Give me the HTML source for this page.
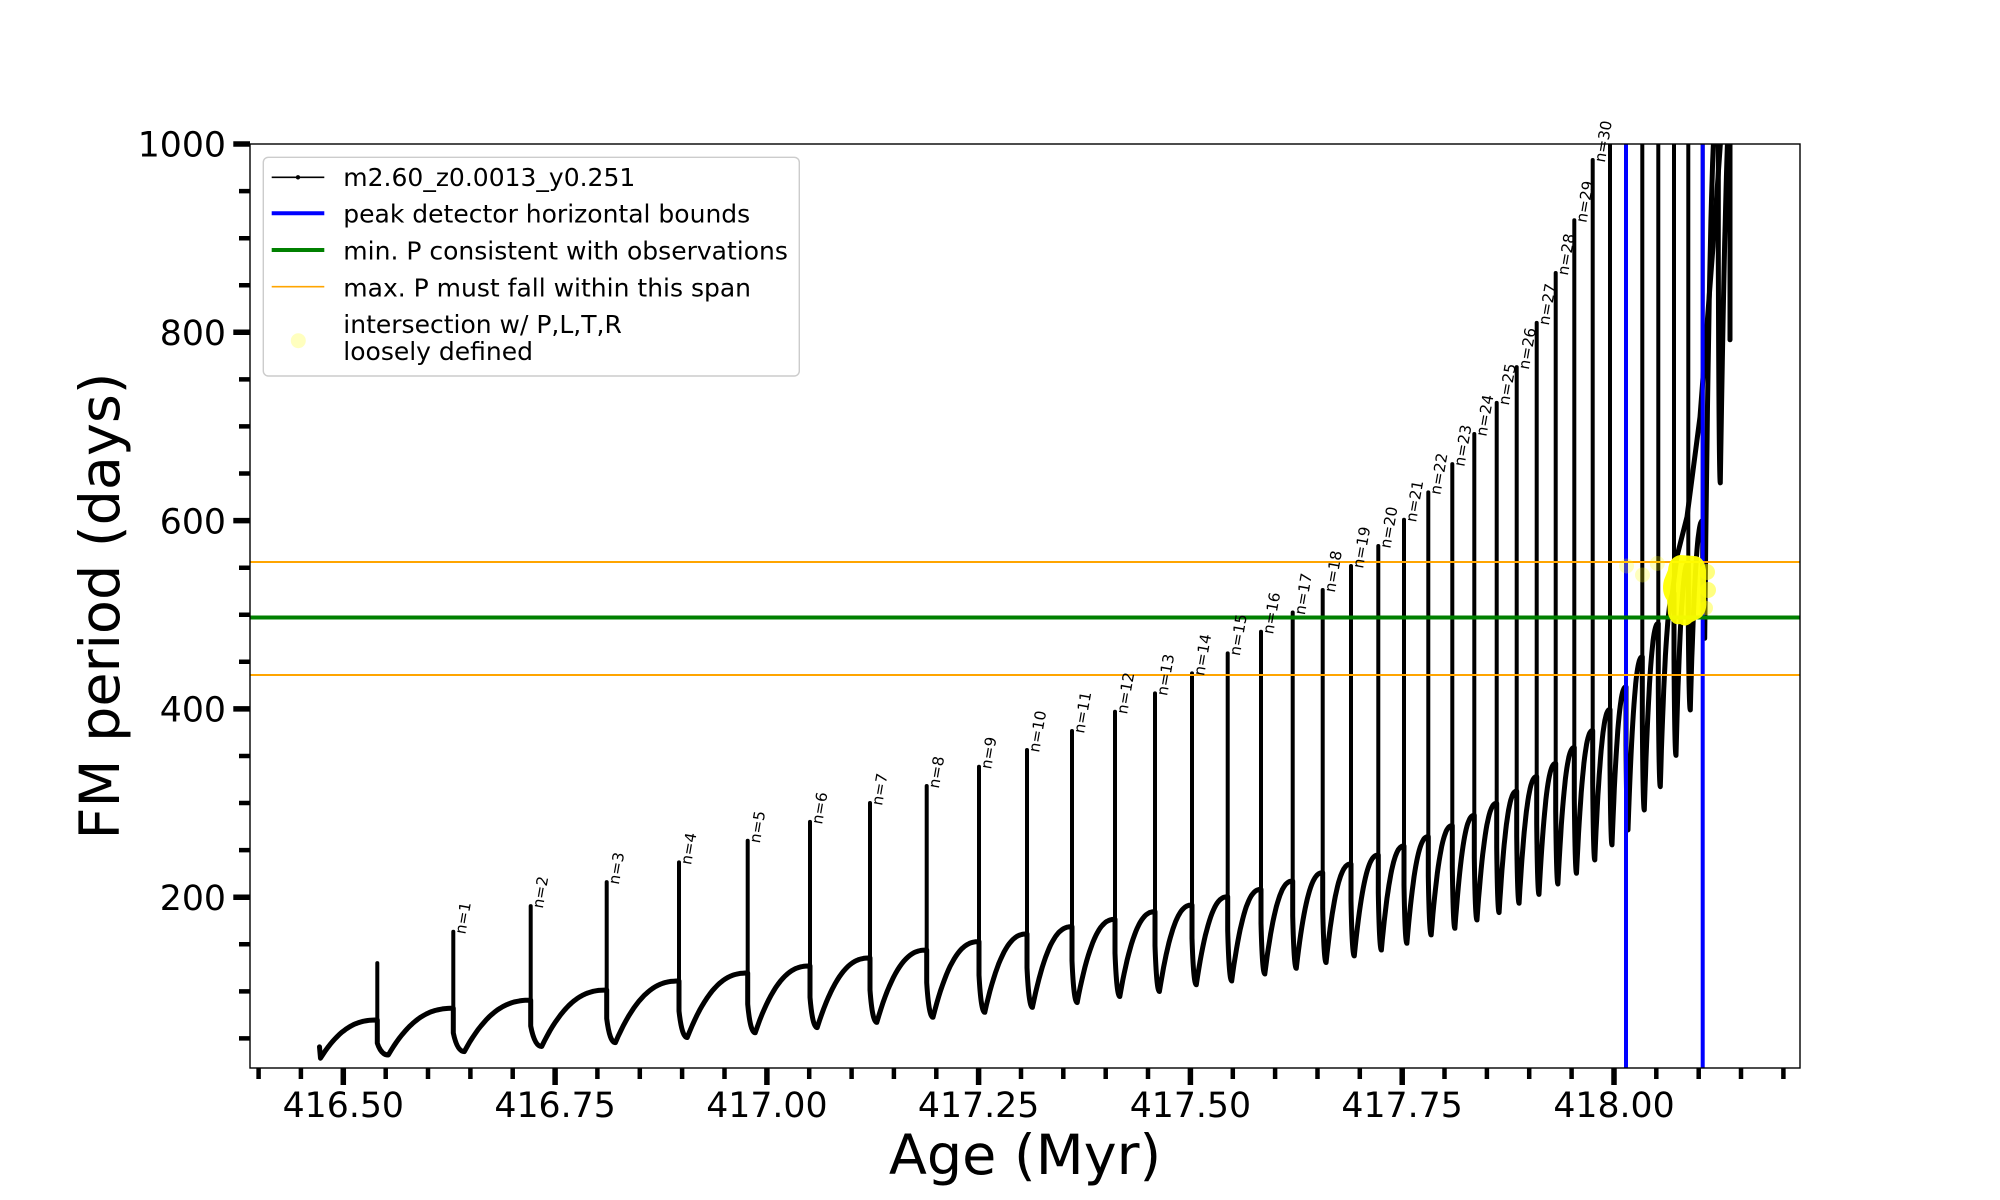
<!DOCTYPE html>
<html>
<head>
<meta charset="utf-8">
<style>
html,body{margin:0;padding:0;background:#fff;}
svg{display:block;}
text{font-family:"DejaVu Sans","Liberation Sans",sans-serif;fill:#000;}
</style>
</head>
<body>
<svg id="s" width="2000" height="1200" viewBox="0 0 2000 1200">
<defs>
  <clipPath id="cp"><rect x="250" y="144" width="1550" height="924"/></clipPath>
</defs>
<rect x="0" y="0" width="2000" height="1200" fill="#fff"/>

<g clip-path="url(#cp)">
  <path id="thin" d="" fill="none" stroke="#000" stroke-width="4" stroke-linecap="round"/>
  <path id="thick" d="" fill="none" stroke="#000" stroke-width="5" stroke-linejoin="round" stroke-linecap="round"/>
  <path id="diag" d="" fill="none" stroke="#000" stroke-width="5" stroke-linejoin="round" stroke-linecap="round"/>
  <!-- blue bounds -->
  <line x1="1626" y1="144" x2="1626" y2="1068" stroke="#0000ff" stroke-width="4"/>
  <line x1="1702.7" y1="144" x2="1702.7" y2="1068" stroke="#0000ff" stroke-width="4"/>
  <!-- green -->
  <line x1="250" y1="617.5" x2="1800" y2="617.5" stroke="#008000" stroke-width="4"/>
  <!-- orange -->
  <line x1="250" y1="562" x2="1800" y2="562" stroke="#ffa500" stroke-width="2"/>
  <line x1="250" y1="675" x2="1800" y2="675" stroke="#ffa500" stroke-width="2"/>
  <!-- yellow intersection points -->
  <g fill="#ffff00">
    <circle cx="1626.5" cy="566" r="7.5" opacity="0.25"/>
    <circle cx="1642.5" cy="575" r="7.5" opacity="0.25"/>
    <circle cx="1657.3" cy="563.5" r="7.5" opacity="0.25"/>
    <path d="M1664,580 Q1661,592 1667,600 L1668,614 Q1672,626 1680,624 Q1686,628 1692,622 L1700,618 Q1708,612 1706,598 L1706,570 Q1704,556 1694,556 L1680,555 Q1669,557 1668,570 Z" opacity="0.95"/>
    <circle cx="1707" cy="572" r="8" opacity="0.5"/>
    <circle cx="1708" cy="590" r="8" opacity="0.5"/>
    <circle cx="1706" cy="608" r="7" opacity="0.4"/>
  </g>
</g>

<!-- spines -->
<rect x="250" y="144" width="1550" height="924" fill="none" stroke="#000" stroke-width="1.4"/>

<!-- ticks -->
<path id="tmaj" d="" fill="none" stroke="#000" stroke-width="5.5"/>
<path id="tmin" d="" fill="none" stroke="#000" stroke-width="4.5"/>

<!-- x tick labels -->
<g font-size="34.7" text-anchor="middle">
  <text x="343.3" y="1117">416.50</text>
  <text x="555.1" y="1117">416.75</text>
  <text x="766.9" y="1117">417.00</text>
  <text x="978.6" y="1117">417.25</text>
  <text x="1190.4" y="1117">417.50</text>
  <text x="1402.1" y="1117">417.75</text>
  <text x="1614.0" y="1117">418.00</text>
</g>
<!-- y tick labels -->
<g font-size="34.7" text-anchor="end">
  <text x="226" y="156.7">1000</text>
  <text x="226" y="345">800</text>
  <text x="226" y="533.3">600</text>
  <text x="226" y="721.6">400</text>
  <text x="226" y="909.9">200</text>
</g>

<!-- axis labels -->
<text x="1025" y="1174" font-size="55.6" text-anchor="middle">Age (Myr)</text>
<text transform="translate(119,606) rotate(-90)" font-size="55.6" text-anchor="middle">FM period (days)</text>

<!-- pulse labels -->
<g font-size="15.3">
  <text transform="translate(465.3,934.8) rotate(-80)">n=1</text>
  <text transform="translate(542.7,909.0) rotate(-80)">n=2</text>
  <text transform="translate(618.7,885.1) rotate(-80)">n=3</text>
  <text transform="translate(691,865.4) rotate(-80)">n=4</text>
  <text transform="translate(759.7,843.7) rotate(-80)">n=5</text>
  <text transform="translate(822,824.9) rotate(-80)">n=6</text>
  <text transform="translate(882,806.1) rotate(-80)">n=7</text>
  <text transform="translate(938.7,789.0) rotate(-80)">n=8</text>
  <text transform="translate(991,769.7) rotate(-80)">n=9</text>
  <text transform="translate(1039,753.0) rotate(-80)">n=10</text>
  <text transform="translate(1084,734.0) rotate(-80)">n=11</text>
  <text transform="translate(1127,714.7) rotate(-80)">n=12</text>
  <text transform="translate(1167,696.4) rotate(-80)">n=13</text>
  <text transform="translate(1204,676.4) rotate(-80)">n=14</text>
  <text transform="translate(1239.7,656.4) rotate(-80)">n=15</text>
  <text transform="translate(1273,634.7) rotate(-80)">n=16</text>
  <text transform="translate(1304.7,615.5) rotate(-80)">n=17</text>
  <text transform="translate(1334.7,593.0) rotate(-80)">n=18</text>
  <text transform="translate(1363,569.0) rotate(-80)">n=19</text>
  <text transform="translate(1390.3,549.0) rotate(-80)">n=20</text>
  <text transform="translate(1416,522.7) rotate(-80)">n=21</text>
  <text transform="translate(1440.3,495.4) rotate(-80)">n=22</text>
  <text transform="translate(1464.3,467.1) rotate(-80)">n=23</text>
  <text transform="translate(1486.3,437.0) rotate(-80)">n=24</text>
  <text transform="translate(1508.7,405.9) rotate(-80)">n=25</text>
  <text transform="translate(1528.7,370.1) rotate(-80)">n=26</text>
  <text transform="translate(1548.7,325.9) rotate(-80)">n=27</text>
  <text transform="translate(1567.7,276.0) rotate(-80)">n=28</text>
  <text transform="translate(1586.3,223.3) rotate(-80)">n=29</text>
  <text transform="translate(1604.7,163.0) rotate(-80)">n=30</text>
</g>

<!-- legend -->
<rect x="263.3" y="157.3" width="536" height="218.7" rx="5" ry="5" fill="#fff" fill-opacity="0.8" stroke="#cccccc" stroke-width="1.4"/>
<line x1="271.7" y1="177.3" x2="324.3" y2="177.3" stroke="#000" stroke-width="1.6"/>
<circle cx="298" cy="177.3" r="2.2" fill="#000"/>
<line x1="271.7" y1="213.3" x2="324.3" y2="213.3" stroke="#0000ff" stroke-width="4"/>
<line x1="271.7" y1="250" x2="324.3" y2="250" stroke="#008000" stroke-width="4"/>
<line x1="271.7" y1="286.7" x2="324.3" y2="286.7" stroke="#ffa500" stroke-width="1.6"/>
<circle cx="298.3" cy="340.7" r="7.5" fill="#ffff00" fill-opacity="0.25"/>
<g font-size="25">
  <text x="343.3" y="186">m2.60_z0.0013_y0.251</text>
  <text x="343.3" y="222.7">peak detector horizontal bounds</text>
  <text x="343.3" y="259.5">min. P consistent with observations</text>
  <text x="343.3" y="296.3">max. P must fall within this span</text>
  <text x="343.3" y="333">intersection w/ P,L,T,R</text>
  <text x="343.3" y="360">loosely defined</text>
</g>
</svg>

<script>
(function(){
  var Y=function(v){return 144+(1000-v)*0.9415;};
  var f=function(n){return n.toFixed(1);};
  var mx="",mn="",i,v;
  for(i=0;i<=36;i++){
    var a=416.40+i*0.05, x=343.3+(a-416.5)*847.1;
    if((i-2)%5===0) mx+="M"+f(x)+",1068V1085"; else mn+="M"+f(x)+",1068V1079";
  }
  for(v=50;v<=1000;v+=50){
    var y=Y(v);
    if(v%200===0) mx+="M233.3,"+f(y)+"H250"; else mn+="M239,"+f(y)+"H250";
  }
  document.getElementById("tmaj").setAttribute("d",mx);
  document.getElementById("tmin").setAttribute("d",mn);

  var X=[377.3,453.3,530.7,606.7,679,747.7,810,870,926.7,979,1027,1072,1115,1155,1192,1227.7,1261,1292.7,1322.7,1351,1378.3,1404,1428.3,1452.3,1474.3,1496.7,1516.7,1536.7,1555.7,1574.3,1592.7,1610,1626,1642.3,1658.3,1674,1688.3,1702.7,1718.3];
  var L=[69.6,82,90.6,101.4,111,119.5,127,135.5,143.9,152.8,161,168.7,176.5,184.6,191.7,200.5,208.3,217.2,226,235.3,244.8,254.4,264.3,276,287,299.7,312.6,328,342,359,377,399.4,423.4,455.3,490.7,523,555,600,1050];
  var P=[130,163.3,190.6,216,237,260,280,300,318.1,338.6,356.3,376.5,397,416.5,437.7,459,482,502.4,526.3,551.8,573,601,630,660,692,725,763,810,863,919,983,1100,1100,1100,1100,1100,1100,1100,1100];
  var D=[32.4,36,41.4,45.6,51,56,61.5,67,72.4,77.8,83,88,94.5,99.8,107,111,118.4,124.5,130.6,137.6,143.9,151,160,167,175.8,183.6,193.5,203,214,225.4,239.5,255.5,271.4,292.6,317.4,350.6,398.8,475,640];

  function rise(x0,v0,x1,v1,p){
    var s="",n=24;
    for(var j=1;j<=n;j++){
      var t=j/n, g=1-Math.pow(1-t,p);
      s+="L"+f(x0+(x1-x0)*t)+","+f(Y(v0+(v1-v0)*g));
    }
    return s;
  }
  var thick="M319.5,"+f(Y(41))+"L320.5,"+f(Y(29));
  thick+=rise(320.5,29,X[0],L[0],2.4);
  var thin="";
  for(var k=0;k<X.length;k++){
    var x=X[k];
    var interval=(k+1<X.length)?(X[k+1]-x):12;
    var dl=k<3?11:Math.max(2,0.12*interval);
    var r=k===0?0.34:Math.min(0.6,0.42+0.012*k);
    var V=D[k]+r*(L[k]-D[k]);
    thin+="M"+f(x)+","+f(Y(Math.min(P[k],1100)))+"L"+f(x)+","+f(Y(V));
    thick+="L"+f(x)+","+f(Y(V))+"Q"+f(x+0.35*dl)+","+f(Y(D[k]))+" "+f(x+dl)+","+f(Y(D[k]));
    if(k+1<X.length) thick+=rise(x+dl,D[k],X[k+1],L[k+1],2.4);
  }
  thick+=rise(1720.3,640,1730,1050,1.6)+"L1730,"+f(Y(792));
  document.getElementById("thin").setAttribute("d",thin);
  document.getElementById("thick").setAttribute("d",thick);
  var dg="M1672,"+f(Y(520))+"L1677,"+f(Y(562))+"L1687,"+f(Y(604))+"L1700,"+f(Y(710))+"L1715,"+f(Y(919))+"L1721,"+f(Y(1010));
  document.getElementById("diag").setAttribute("d",dg);
})();
</script>
</body>
</html>
